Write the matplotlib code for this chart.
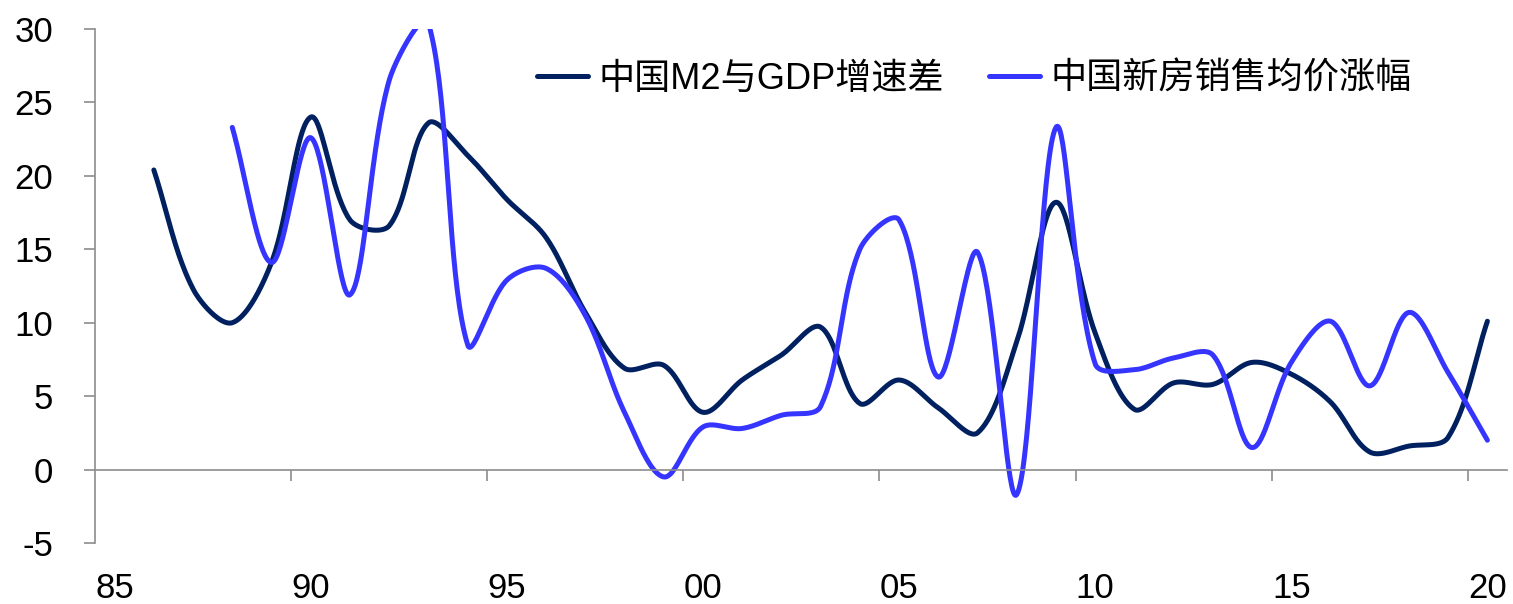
import numpy as np
import matplotlib
matplotlib.use("Agg")
import matplotlib.pyplot as plt
from matplotlib.ticker import FixedLocator, FixedFormatter, NullFormatter

plt.rcParams["font.family"] = ["Liberation Sans", "Noto Sans CJK SC", "DejaVu Sans"]

# Annual series (%)
m2_years = list(range(1986, 2021))
m2_gdp_gap = [20.4, 12.3, 10.0, 14.1, 24.0, 17.0, 16.6, 23.6, 21.4, 18.4,
              15.8, 10.7, 6.9, 7.1, 3.9, 6.1, 7.8, 9.7, 4.5, 6.1,
              4.2, 2.5, 8.7, 18.2, 9.3, 4.1, 5.9, 5.8, 7.3, 6.5,
              4.6, 1.2, 1.6, 2.2, 10.1]

house_years = list(range(1988, 2021))
house_price_growth = [23.3, 14.1, 22.6, 11.9, 26.5, 30.4, 8.5, 12.9, 13.7, 10.5,
                      3.9, -0.5, 2.9, 2.8, 3.7, 4.3, 15.0, 17.0, 6.3, 14.8,
                      -1.7, 23.3, 7.2, 6.8, 7.6, 7.8, 1.5, 7.3, 10.1, 5.7,
                      10.7, 6.6, 2.0]

series_names = ["中国M2与GDP增速差", "中国新房销售均价涨幅"]
series_colors = ["#002060", "#3535FF"]

first_year = 1985
last_year = 2020
label_years = [1985, 1990, 1995, 2000, 2005, 2010, 2015, 2020]
xtick_labels = ["85", "90", "95", "00", "05", "10", "15", "20"]
yticks = [-5, 0, 5, 10, 15, 20, 25, 30]
y_range = (-5, 30)

fig_w, fig_h = 1513, 604
ax_px = (95, 29, 1507, 543)  # left, top, right, bottom in pixels


def smooth(xs, ys, sx, sy, steps=40):
    """Cubic Bezier smoothing through every point; control arms are
    weighted by the on-screen length of the neighbouring segments."""
    pts = np.column_stack([np.asarray(xs, float) * sx, np.asarray(ys, float) * sy])
    n = len(pts)
    arms_out, arms_in = [], []
    for i in range(n):
        p0 = pts[max(i - 1, 0)]
        p1 = pts[i]
        p2 = pts[min(i + 1, n - 1)]
        l0 = np.hypot(*(p1 - p0))
        l1 = np.hypot(*(p2 - p1))
        tot = l0 + l1 if l0 + l1 > 0 else 1.0
        arms_out.append((p2 - p0) * l1 / tot / 3.0)
        arms_in.append((p2 - p0) * l0 / tot / 3.0)
    t = np.linspace(0, 1, steps)[:, None]
    out = []
    for i in range(n - 1):
        p1, p2 = pts[i], pts[i + 1]
        c1 = p1 + arms_out[i]
        c2 = p2 - arms_in[i + 1]
        seg = ((1 - t) ** 3) * p1 + 3 * ((1 - t) ** 2) * t * c1 \
            + 3 * (1 - t) * t ** 2 * c2 + t ** 3 * p2
        out.append(seg if i == 0 else seg[1:])
    out = np.vstack(out)
    return out[:, 0] / sx, out[:, 1] / sy


def pos(years):
    # category centres: each year occupies one unit of the axis
    return [y - first_year + 0.5 for y in years]


n_cats = last_year - first_year + 1
px_per_x = (ax_px[2] - ax_px[0]) / n_cats
px_per_y = (ax_px[3] - ax_px[1]) / (y_range[1] - y_range[0])

fig = plt.figure(figsize=(fig_w / 100, fig_h / 100), dpi=100)
ax = fig.add_axes([ax_px[0] / fig_w, 1 - ax_px[3] / fig_h,
                   (ax_px[2] - ax_px[0]) / fig_w, (ax_px[3] - ax_px[1]) / fig_h])

for yrs, vals, name, col in [(m2_years, m2_gdp_gap, series_names[0], series_colors[0]),
                             (house_years, house_price_growth, series_names[1], series_colors[1])]:
    cx, cy = smooth(pos(yrs), vals, px_per_x, px_per_y)
    ax.plot(cx, cy, color=col, lw=3.6, solid_capstyle="round",
            solid_joinstyle="round", label=name)

ax.set_xlim(0, n_cats)
ax.set_ylim(*y_range)

axis_grey = "#8c8c8c"
for side in ["top", "right"]:
    ax.spines[side].set_visible(False)
ax.spines["left"].set_color(axis_grey)
ax.spines["left"].set_linewidth(1.2)
ax.spines["bottom"].set_color(axis_grey)
ax.spines["bottom"].set_linewidth(1.2)
ax.spines["bottom"].set_position(("data", 0))

# y axis
ax.set_yticks(yticks)
ax.set_yticklabels([str(v) for v in yticks])
ax.tick_params(axis="y", direction="out", length=8, width=1.2, color=axis_grey,
               labelsize=25, pad=22, labelcolor="black")

# x axis: marks at year boundaries, labels at the year centres below the plot
boundaries = [y - first_year for y in label_years[1:]]
ax.xaxis.set_major_locator(FixedLocator(boundaries))
ax.xaxis.set_major_formatter(NullFormatter())
ax.xaxis.set_minor_locator(FixedLocator(pos(label_years)))
ax.xaxis.set_minor_formatter(FixedFormatter(xtick_labels))
ax.tick_params(axis="x", which="major", direction="out", length=8, width=1.2,
               color=axis_grey)
ax.tick_params(axis="x", which="minor", length=0, labelsize=25, pad=74,
               labelcolor="black")

leg = ax.legend(loc="center left", bbox_to_anchor=(537 / fig_w, 1 - 79 / fig_h),
                bbox_transform=fig.transFigure, ncol=2, frameon=False,
                fontsize=26, handlelength=1.4, handletextpad=0.3,
                columnspacing=1.25, borderpad=0, borderaxespad=0)
for line in leg.get_lines():
    line.set_solid_capstyle("round")
    line.set_linewidth(3.6)

fig.savefig("out.png", dpi=100)
